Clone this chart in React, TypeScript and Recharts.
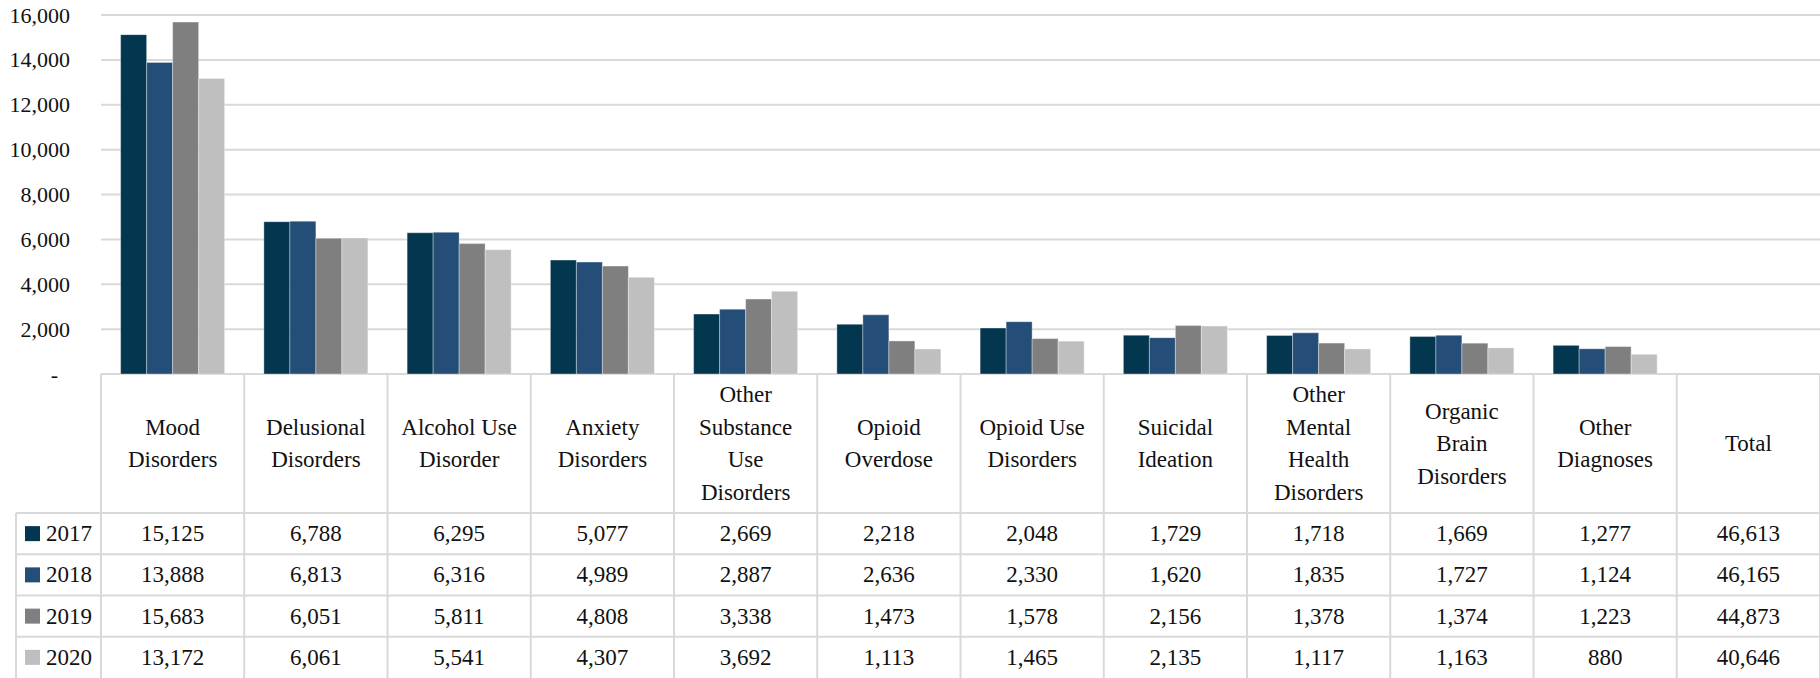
import React from 'react';
import { BarChart, Bar, XAxis, YAxis, CartesianGrid } from 'recharts';

// Diagnosis categories (the last column is the yearly total, table only)
const categories = [
  'Mood Disorders',
  'Delusional Disorders',
  'Alcohol Use Disorder',
  'Anxiety Disorders',
  'Other Substance Use Disorders',
  'Opioid Overdose',
  'Opioid Use Disorders',
  'Suicidal Ideation',
  'Other Mental Health Disorders',
  'Organic Brain Disorders',
  'Other Diagnoses',
  'Total',
];

// How each header wraps inside its table cell
const headerLines = [
  ['Mood', 'Disorders'],
  ['Delusional', 'Disorders'],
  ['Alcohol Use', 'Disorder'],
  ['Anxiety', 'Disorders'],
  ['Other', 'Substance', 'Use', 'Disorders'],
  ['Opioid', 'Overdose'],
  ['Opioid Use', 'Disorders'],
  ['Suicidal', 'Ideation'],
  ['Other', 'Mental', 'Health', 'Disorders'],
  ['Organic', 'Brain', 'Disorders'],
  ['Other', 'Diagnoses'],
  ['Total'],
];

const years = ['2017', '2018', '2019', '2020'];

const values2017 = [15125, 6788, 6295, 5077, 2669, 2218, 2048, 1729, 1718, 1669, 1277, 46613];
const values2018 = [13888, 6813, 6316, 4989, 2887, 2636, 2330, 1620, 1835, 1727, 1124, 46165];
const values2019 = [15683, 6051, 5811, 4808, 3338, 1473, 1578, 2156, 1378, 1374, 1223, 44873];
const values2020 = [13172, 6061, 5541, 4307, 3692, 1113, 1465, 2135, 1117, 1163, 880, 40646];

const yTicks = [0, 2000, 4000, 6000, 8000, 10000, 12000, 14000, 16000];

const seriesValues = [values2017, values2018, values2019, values2020];
const colors = ['#03364f', '#244d77', '#7f7f7f', '#bfbfbf'];

const CHART_W = 1820;
const CHART_H = 678;
const PLOT_LEFT = 101;
const PLOT_TOP = 15;
const PLOT_BOTTOM = 374;
const COL_W = (CHART_W - PLOT_LEFT) / categories.length;
const ROW_TOP = 513;
const ROW_H = (CHART_H - ROW_TOP) / years.length;
const LEGEND_LEFT = 16;
const LINE_COLOR = '#d9d9d9';
const TEXT = '#111';
const textStyle = { fontFamily: "'Liberation Serif', 'DejaVu Serif', serif" };

const TOTAL_INDEX = categories.indexOf('Total');

// bar rows: the Total column is shown in the table but not plotted
const data = categories.map((name, i) => {
  const row: Record<string, any> = { name };
  years.forEach((y, s) => {
    row['y' + y] = i === TOTAL_INDEX ? null : seriesValues[s][i];
  });
  return row;
});

const fmt = (v: number) => v.toLocaleString('en-US');

const YTick = ({ y, payload }: any) => {
  const isZero = payload.value === 0;
  return (
    <text
      x={isZero ? 58 : 70}
      y={y}
      textAnchor="end"
      dominantBaseline="central"
      style={textStyle}
      fontSize={22}
      fill={TEXT}
    >
      {isZero ? '-' : fmt(payload.value)}
    </text>
  );
};

// Each x tick draws its whole column of the data table under the plot
const TableColumn = ({ x, payload }: any) => {
  const idx = categories.indexOf(payload.value);
  const left = x - COL_W / 2;
  const right = x + COL_W / 2;
  const lines = headerLines[idx];
  const headerMid = (PLOT_BOTTOM + ROW_TOP) / 2;
  const lineGap = 32.5;

  return (
    <g>
      <line x1={left} x2={left} y1={PLOT_BOTTOM} y2={CHART_H} stroke={LINE_COLOR} strokeWidth={2} />
      {idx === categories.length - 1 && (
        <line x1={right} x2={right} y1={PLOT_BOTTOM} y2={CHART_H} stroke={LINE_COLOR} strokeWidth={2} />
      )}
      {lines.map((t, k) => (
        <text
          key={k}
          x={x}
          y={headerMid + (k - (lines.length - 1) / 2) * lineGap}
          textAnchor="middle"
          dominantBaseline="central"
          style={textStyle}
          fontSize={23}
          fill={TEXT}
        >
          {t}
        </text>
      ))}
      {years.map((yr, r) => (
        <g key={yr}>
          <line
            x1={left}
            x2={right}
            y1={ROW_TOP + r * ROW_H}
            y2={ROW_TOP + r * ROW_H}
            stroke={LINE_COLOR}
            strokeWidth={2}
          />
          <text
            x={x}
            y={ROW_TOP + (r + 0.5) * ROW_H}
            textAnchor="middle"
            dominantBaseline="central"
            style={textStyle}
            fontSize={23}
            fill={TEXT}
          >
            {fmt(seriesValues[r][idx])}
          </text>
        </g>
      ))}
      {idx === 0 && (
        <g>
          {/* legend keys in the first table column */}
          <line x1={LEGEND_LEFT} x2={LEGEND_LEFT} y1={ROW_TOP} y2={CHART_H} stroke={LINE_COLOR} strokeWidth={2} />
          {years.map((yr, r) => {
            const cy = ROW_TOP + (r + 0.5) * ROW_H;
            return (
              <g key={yr}>
                <line
                  x1={LEGEND_LEFT}
                  x2={left}
                  y1={ROW_TOP + r * ROW_H}
                  y2={ROW_TOP + r * ROW_H}
                  stroke={LINE_COLOR}
                  strokeWidth={2}
                />
                <rect x={25} y={cy - 7.5} width={15} height={15} fill={colors[r]} />
                <text x={46} y={cy} dominantBaseline="central" style={textStyle} fontSize={23} fill={TEXT}>
                  {yr}
                </text>
              </g>
            );
          })}
        </g>
      )}
    </g>
  );
};

export default function App() {
  return (
    <div style={{ position: 'absolute', left: 0, top: 0, background: '#fff' }}>
      <BarChart
        width={CHART_W}
        height={CHART_H}
        data={data}
        margin={{ top: PLOT_TOP, right: 0, left: 0, bottom: 0 }}
        barCategoryGap="13.7%"
        barGap={0}
      >
        <CartesianGrid vertical={false} stroke={LINE_COLOR} strokeWidth={2} />
        <XAxis
          dataKey="name"
          height={CHART_H - PLOT_BOTTOM}
          axisLine={false}
          tickLine={false}
          interval={0}
          tick={<TableColumn />}
        />
        <YAxis
          width={PLOT_LEFT}
          domain={[0, 16000]}
          ticks={yTicks}
          axisLine={false}
          tickLine={false}
          interval={0}
          tick={<YTick />}
        />
        {years.map((yr, s) => (
          <Bar
            key={yr}
            dataKey={'y' + yr}
            name={yr}
            fill={colors[s]}
            stroke="#ffffff"
            strokeOpacity={0.35}
            strokeWidth={1}
            isAnimationActive={false}
          />
        ))}
      </BarChart>
    </div>
  );
}
